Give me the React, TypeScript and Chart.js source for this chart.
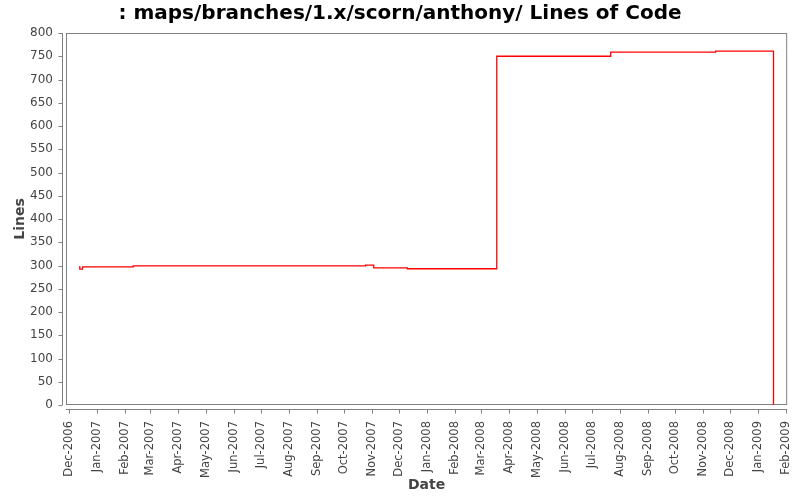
import React, { useEffect, useRef } from "react";
import { Chart, registerables } from "chart.js";

Chart.register(...registerables);

const DAY_MS = 86400000;
const toDay = (s: string) => Date.parse(s + "T00:00:00Z") / DAY_MS;

const chartTitle = ": maps/branches/1.x/scorn/anthony/ Lines of Code";
const xAxisTitle = "Date";
const yAxisTitle = "Lines";

const commitDates = [
  "2006-12-12",
  "2006-12-13",
  "2006-12-16",
  "2007-02-10",
  "2007-10-25",
  "2007-11-03",
  "2007-12-10",
  "2008-03-18",
  "2008-07-22",
  "2008-11-15",
  "2009-01-18",
];
const linesOfCode = [297, 292, 297, 299, 301, 295, 293, 750, 759, 761, 0];

const tickDates = [
  "2006-12-01", "2007-01-01", "2007-02-01", "2007-03-01", "2007-04-01",
  "2007-05-01", "2007-06-01", "2007-07-01", "2007-08-01", "2007-09-01",
  "2007-10-01", "2007-11-01", "2007-12-01", "2008-01-01", "2008-02-01",
  "2008-03-01", "2008-04-01", "2008-05-01", "2008-06-01", "2008-07-01",
  "2008-08-01", "2008-09-01", "2008-10-01", "2008-11-01", "2008-12-01",
  "2009-01-01", "2009-02-01",
];
const tickLabels = [
  "Dec-2006", "Jan-2007", "Feb-2007", "Mar-2007", "Apr-2007",
  "May-2007", "Jun-2007", "Jul-2007", "Aug-2007", "Sep-2007",
  "Oct-2007", "Nov-2007", "Dec-2007", "Jan-2008", "Feb-2008",
  "Mar-2008", "Apr-2008", "May-2008", "Jun-2008", "Jul-2008",
  "Aug-2008", "Sep-2008", "Oct-2008", "Nov-2008", "Dec-2008",
  "Jan-2009", "Feb-2009",
];

const xMin = toDay("2006-12-01") - 3.3;
const xMax = toDay("2009-02-01") + 1.1;
const yMin = 0;
const yMax = 800;
const yStep = 50;

const FONT = "'DejaVu Sans', sans-serif";
const GRAY = "#808080";
const TEXT = "#444444";

const axesPlugin = {
  id: "jfreeAxes",
  beforeDatasetsDraw(chart: any) {
    const { ctx, chartArea: a } = chart;
    ctx.save();
    ctx.strokeStyle = GRAY;
    ctx.lineWidth = 1;
    ctx.strokeRect(a.left + 0.5, a.top + 0.5, a.right - a.left - 1, a.bottom - a.top - 1);
    ctx.restore();
  },
  afterDraw(chart: any) {
    const { ctx, chartArea: a, scales } = chart;
    ctx.save();
    ctx.strokeStyle = GRAY;
    ctx.lineWidth = 1;
    ctx.beginPath();
    const ax = a.left - 4 + 0.5;
    ctx.moveTo(ax, a.top);
    ctx.lineTo(ax, a.bottom);
    for (const t of scales.y.ticks) {
      const py = Math.round(scales.y.getPixelForValue(t.value)) + 0.5;
      ctx.moveTo(ax - 4, py);
      ctx.lineTo(ax, py);
    }
    const ay = a.bottom + 4 + 0.5;
    ctx.moveTo(a.left, ay);
    ctx.lineTo(a.right, ay);
    for (const t of scales.x.ticks) {
      const px = Math.round(scales.x.getPixelForValue(t.value)) + 0.5;
      ctx.moveTo(px, ay);
      ctx.lineTo(px, ay + 4);
    }
    ctx.stroke();
    ctx.restore();
  },
};

export default function App() {
  const ref = useRef<HTMLCanvasElement | null>(null);

  useEffect(() => {
    if (!ref.current) return;
    const points = commitDates.map((s, i) => ({ x: toDay(s), y: linesOfCode[i] }));
    const tickValues = tickDates.map(toDay);
    const chart = new Chart(ref.current, {
      type: "line",
      data: {
        datasets: [
          {
            data: points,
            borderColor: "#ff0000",
            borderWidth: 1.3,
            pointRadius: 0,
            stepped: true,
            fill: false,
          },
        ],
      },
      options: {
        animation: false,
        responsive: false,
        layout: { padding: 0 },
        plugins: {
          legend: { display: false },
          tooltip: { enabled: false },
          title: {
            display: true,
            text: chartTitle,
            color: "#000000",
            font: { family: FONT, size: 20, weight: "bold" },
            padding: { top: 2, bottom: 7 },
          },
        },
        scales: {
          x: {
            type: "linear",
            position: "bottom",
            min: xMin,
            max: xMax,
            grid: { display: false, drawTicks: true, tickLength: 16 },
            border: { display: false },
            afterBuildTicks: (scale: any) => {
              scale.ticks = tickValues.map((v) => ({ value: v }));
            },
            afterFit: (scale: any) => {
              scale.height = 95;
            },
            ticks: {
              autoSkip: false,
              minRotation: 90,
              maxRotation: 90,
              padding: 0,
              color: TEXT,
              font: { family: FONT, size: 11.5 },
              callback: (v: any) => {
                const i = tickValues.indexOf(Number(v));
                return i >= 0 ? tickLabels[i] : "";
              },
            },
            title: {
              display: true,
              text: xAxisTitle,
              color: TEXT,
              font: { family: FONT, size: 14, weight: "bold" },
              padding: { top: 0, bottom: 6.6 },
            },
          },
          y: {
            type: "linear",
            position: "left",
            min: yMin,
            max: yMax,
            grid: { display: false, drawTicks: false },
            border: { display: false },
            afterFit: (scale: any) => {
              scale.width = 66;
            },
            ticks: {
              stepSize: yStep,
              padding: 13,
              color: TEXT,
              font: { family: FONT, size: 12 },
            },
            title: {
              display: true,
              text: yAxisTitle,
              color: TEXT,
              font: { family: FONT, size: 14, weight: "bold" },
              padding: { top: 11.6, bottom: 0 },
            },
          },
          yRight: {
            type: "linear",
            position: "right",
            display: true,
            grid: { display: false, drawTicks: false },
            border: { display: false },
            ticks: { display: false },
            afterFit: (scale: any) => {
              scale.width = 12;
            },
          },
        },
      },
      plugins: [axesPlugin],
    });
    return () => chart.destroy();
  }, []);

  return (
    <div style={{ position: "fixed", left: 0, top: 0, width: 800, height: 500, background: "#fff" }}>
      <canvas ref={ref} width={800} height={500} style={{ display: "block" }} />
    </div>
  );
}
